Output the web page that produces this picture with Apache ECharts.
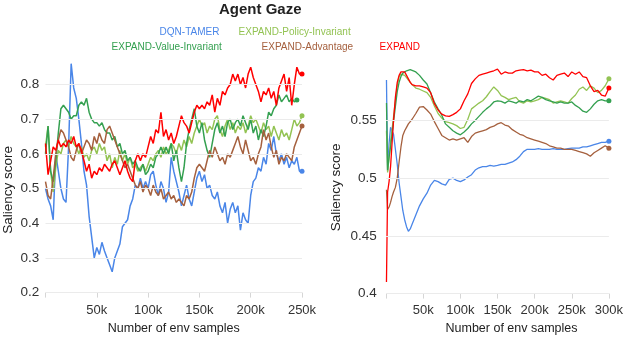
<!DOCTYPE html>
<html lang="en">
<head>
<meta charset="UTF-8">
<title>Agent Gaze</title>
<script src="https://cdn.jsdelivr.net/npm/echarts@6.0.0/dist/echarts.min.js"></script>
<style>
  html, body { margin: 0; padding: 0; background: #fff; }
</style>
</head>
<body>
<div id="main" style="width:626px;height:340px;"></div>
<script>
// series names / colours, in legend order
const seriesNames = ['DQN-TAMER', 'EXPAND-Policy-Invariant', 'EXPAND-Value-Invariant', 'EXPAND-Advantage', 'EXPAND'];
const seriesColors = ['#4a86e8', '#93c353', '#34a050', '#a5603e', '#ff0000'];

// left panel: one reading every 2.5k env samples, starting at 0
const leftStepK = 2.5;
const leftDqnTamer = [
  0.50, 0.47, 0.45, 0.41, 0.60, 0.55, 0.50, 0.47, 0.46, 0.62,
  0.86, 0.79, 0.76, 0.70, 0.63, 0.55, 0.51, 0.42, 0.36, 0.30,
  0.33, 0.31, 0.345, 0.32, 0.30, 0.28, 0.26, 0.30, 0.32, 0.34,
  0.39, 0.40, 0.41, 0.45, 0.47, 0.51, 0.50, 0.53, 0.50, 0.52,
  0.50, 0.54, 0.55, 0.51, 0.48, 0.52, 0.50, 0.46, 0.49, 0.59,
  0.55, 0.52, 0.49, 0.45, 0.48, 0.51, 0.47, 0.45, 0.49, 0.53,
  0.55, 0.52, 0.54, 0.50, 0.51, 0.48, 0.47, 0.49, 0.45, 0.43,
  0.46, 0.40, 0.44, 0.46, 0.43, 0.45, 0.38, 0.43, 0.41, 0.40,
  0.48, 0.52, 0.53, 0.56, 0.55, 0.59, 0.57, 0.63, 0.61, 0.65,
  0.60, 0.58, 0.60, 0.57, 0.59, 0.56, 0.58, 0.57, 0.59, 0.55,
  0.55
];
const leftPolicyInv = [
  0.62, 0.68, 0.55, 0.49, 0.56, 0.61, 0.60, 0.63, 0.64, 0.62,
  0.65, 0.63, 0.62, 0.60, 0.62, 0.59, 0.60, 0.58, 0.61, 0.62,
  0.60, 0.63, 0.61, 0.62, 0.58, 0.60, 0.56, 0.59, 0.57, 0.61,
  0.58, 0.60, 0.57, 0.59, 0.56, 0.57, 0.55, 0.56, 0.57, 0.55,
  0.57, 0.59, 0.58, 0.60, 0.61, 0.59, 0.62, 0.60, 0.61, 0.63,
  0.62, 0.60, 0.63, 0.61, 0.64, 0.62, 0.65, 0.63, 0.66, 0.68,
  0.70, 0.68, 0.69, 0.66, 0.68, 0.67, 0.70, 0.71, 0.67, 0.65,
  0.68, 0.70, 0.67, 0.69, 0.66, 0.68, 0.67, 0.69, 0.66, 0.68,
  0.71, 0.69, 0.70, 0.68, 0.66, 0.69, 0.67, 0.68, 0.65, 0.68,
  0.66, 0.64, 0.67, 0.65, 0.66, 0.64, 0.67, 0.70, 0.68, 0.69,
  0.71
];
const leftValueInv = [
  0.60, 0.68, 0.55, 0.52, 0.58, 0.66, 0.73, 0.74, 0.73, 0.72,
  0.70, 0.71, 0.71, 0.74, 0.75, 0.74, 0.76, 0.72, 0.70, 0.69,
  0.69, 0.68, 0.69, 0.67, 0.66, 0.66, 0.64, 0.65, 0.62, 0.63,
  0.60, 0.61, 0.58, 0.59, 0.57, 0.58, 0.56, 0.55, 0.57, 0.54,
  0.55, 0.57, 0.56, 0.59, 0.60, 0.62, 0.60, 0.62, 0.60, 0.63,
  0.58, 0.61, 0.56, 0.52, 0.56, 0.63, 0.67, 0.70, 0.73, 0.68,
  0.66, 0.69, 0.64, 0.61, 0.59, 0.63, 0.67, 0.69, 0.66, 0.68,
  0.65, 0.69, 0.70, 0.67, 0.69, 0.70, 0.68, 0.71, 0.69, 0.67,
  0.70, 0.66, 0.68, 0.64, 0.67, 0.65, 0.68, 0.72, 0.71, 0.73,
  0.74, 0.77, 0.75, 0.76, 0.77, 0.75, 0.76, 0.75, 0.755
];
const leftAdvantage = [
  0.52, 0.48, 0.47, 0.53, 0.60, 0.64, 0.67, 0.66, 0.64, 0.62,
  0.59, 0.58, 0.61, 0.63, 0.60, 0.62, 0.64, 0.63, 0.61, 0.65,
  0.63, 0.66, 0.64, 0.63, 0.67, 0.68, 0.66, 0.64, 0.62, 0.60,
  0.58, 0.56, 0.57, 0.55, 0.53, 0.51, 0.50, 0.52, 0.49, 0.51,
  0.50, 0.48, 0.51, 0.49, 0.48, 0.50, 0.47, 0.48, 0.49, 0.47,
  0.48, 0.46, 0.47, 0.46, 0.45, 0.48, 0.47, 0.49, 0.53, 0.56,
  0.57, 0.56, 0.55, 0.58, 0.61, 0.59, 0.62, 0.60, 0.58, 0.59,
  0.57, 0.60, 0.59, 0.61, 0.63, 0.65, 0.62, 0.60, 0.64, 0.61,
  0.58, 0.59, 0.57, 0.60, 0.62, 0.67, 0.64, 0.66, 0.62, 0.59,
  0.61, 0.57, 0.59, 0.58, 0.60, 0.59, 0.58, 0.62, 0.64, 0.66,
  0.68
];
const leftExpand = [
  0.63, 0.54, 0.58, 0.62, 0.61, 0.64, 0.62, 0.63, 0.62, 0.64,
  0.63, 0.65, 0.62, 0.63, 0.61, 0.58, 0.55, 0.57, 0.53, 0.55,
  0.54, 0.56, 0.55, 0.57, 0.56, 0.55, 0.57, 0.58, 0.56, 0.54,
  0.56, 0.58, 0.55, 0.53, 0.52, 0.58, 0.60, 0.58, 0.60, 0.59,
  0.62, 0.65, 0.63, 0.67, 0.66, 0.72, 0.65, 0.67, 0.64, 0.66,
  0.63, 0.65, 0.68, 0.71, 0.69, 0.68, 0.66, 0.69, 0.72, 0.74,
  0.73, 0.74, 0.73, 0.75, 0.74, 0.77, 0.72, 0.76, 0.74, 0.78,
  0.77, 0.79, 0.80, 0.83, 0.81, 0.83, 0.80, 0.82, 0.79, 0.83,
  0.85, 0.82, 0.80, 0.78, 0.75, 0.78, 0.77, 0.79, 0.76, 0.78,
  0.74, 0.79, 0.81, 0.83, 0.78, 0.82, 0.74, 0.80, 0.85, 0.83,
  0.83
];

// right panel: env samples (k) and readings
const rightSamplesK = [
  0.5, 2, 4, 6, 8, 10, 12.5, 15, 17.5, 20, 22.5, 25, 27.5, 30, 32.5, 35,
  40, 45, 50, 55, 60, 65, 70, 75, 80, 85, 90, 95, 100, 105, 110, 115, 120,
  125, 130, 135, 140, 145, 150, 155, 160, 165, 170, 175, 180, 185, 190, 195,
  200, 205, 210, 215, 220, 225, 230, 235, 240, 245, 250, 255, 260, 265, 270,
  275, 280, 285, 290, 295, 300
];
const rightDqnTamer = [
  0.585, 0.506, 0.530, 0.544, 0.543, 0.538, 0.525, 0.512, 0.496, 0.484, 0.472, 0.464, 0.458, 0.454, 0.456, 0.460,
  0.468, 0.476, 0.482, 0.487, 0.494, 0.498, 0.497, 0.495, 0.494, 0.499, 0.500, 0.498, 0.497, 0.4985, 0.501, 0.503, 0.507,
  0.509, 0.510, 0.510, 0.511, 0.5105, 0.511, 0.512, 0.512, 0.513, 0.514, 0.516, 0.519, 0.523, 0.525, 0.525,
  0.525, 0.5255, 0.525, 0.525, 0.525, 0.5255, 0.525, 0.525, 0.525, 0.5255, 0.526, 0.526, 0.526, 0.527, 0.527,
  0.528, 0.529, 0.530, 0.531, 0.531, 0.532
];
const rightPolicyInv = [
  0.541, 0.505, 0.518, 0.532, 0.542, 0.553, 0.567, 0.580, 0.588, 0.590, 0.590, 0.589, 0.587, 0.585, 0.583, 0.581,
  0.578, 0.577, 0.5755, 0.574, 0.570, 0.5625, 0.556, 0.552, 0.549, 0.548, 0.547, 0.5455, 0.543, 0.544, 0.551, 0.560, 0.5625,
  0.565, 0.567, 0.5705, 0.575, 0.579, 0.576, 0.5715, 0.570, 0.568, 0.569, 0.570, 0.566, 0.565, 0.567, 0.566,
  0.567, 0.568, 0.570, 0.569, 0.568, 0.565, 0.566, 0.567, 0.566, 0.565, 0.569, 0.572, 0.577, 0.579, 0.576,
  0.580, 0.578, 0.574, 0.576, 0.580, 0.586
];
const rightValueInv = [
  0.565, 0.507, 0.518, 0.527, 0.538, 0.549, 0.562, 0.575, 0.583, 0.588, 0.591, 0.592, 0.593, 0.594, 0.594, 0.5935,
  0.592, 0.589, 0.585, 0.5815, 0.574, 0.566, 0.560, 0.5545, 0.547, 0.544, 0.541, 0.539, 0.5375, 0.540, 0.543, 0.547, 0.550,
  0.5535, 0.557, 0.560, 0.5625, 0.566, 0.567, 0.5665, 0.565, 0.567, 0.566, 0.565, 0.567, 0.566, 0.568, 0.567,
  0.569, 0.571, 0.570, 0.568, 0.567, 0.566, 0.565, 0.566, 0.565, 0.565, 0.566, 0.563, 0.561, 0.558, 0.557,
  0.560, 0.564, 0.567, 0.568, 0.567, 0.567
];
const rightAdvantage = [
  0.490, 0.473, 0.475, 0.479, 0.484, 0.488, 0.492, 0.500, 0.514, 0.527, 0.537, 0.541, 0.544, 0.547, 0.549, 0.551,
  0.556, 0.5615, 0.562, 0.559, 0.5555, 0.549, 0.543, 0.537, 0.535, 0.533, 0.534, 0.533, 0.534, 0.535, 0.531, 0.536, 0.539,
  0.540, 0.541, 0.542, 0.544, 0.545, 0.547, 0.548, 0.546, 0.545, 0.542, 0.540, 0.538, 0.537, 0.535, 0.534,
  0.533, 0.532, 0.531, 0.530, 0.528, 0.527, 0.526, 0.526, 0.525, 0.525, 0.525, 0.524, 0.523, 0.522, 0.521,
  0.519, 0.522, 0.524, 0.526, 0.528, 0.526
];
const rightExpand = [
  0.410, 0.488, 0.497, 0.510, 0.530, 0.550, 0.570, 0.583, 0.589, 0.592, 0.593, 0.592, 0.589, 0.586, 0.583, 0.581,
  0.580, 0.580, 0.579, 0.578, 0.574, 0.5645, 0.559, 0.5555, 0.554, 0.5535, 0.555, 0.557, 0.560, 0.567, 0.573, 0.582, 0.586,
  0.589, 0.590, 0.591, 0.592, 0.593, 0.5945, 0.590, 0.592, 0.591, 0.591, 0.593, 0.5935, 0.594, 0.593, 0.5935,
  0.592, 0.592, 0.589, 0.590, 0.587, 0.585, 0.589, 0.590, 0.591, 0.588, 0.592, 0.590, 0.592, 0.588, 0.587,
  0.580, 0.575, 0.576, 0.572, 0.571, 0.578
];

// gridlines / tick values
const leftYTicks = [0.2, 0.3, 0.4, 0.5, 0.6, 0.7, 0.8];
const rightYTicks = [0.4, 0.45, 0.5, 0.55];

const leftData = [leftDqnTamer, leftPolicyInv, leftValueInv, leftAdvantage, leftExpand];
const rightData = [rightDqnTamer, rightPolicyInv, rightValueInv, rightAdvantage, rightExpand];

const FONT = '"Liberation Sans", Arial, sans-serif';

// mark the last reading with a dot
function withEndDot(pairs) {
  return pairs.map((p, i) => i === pairs.length - 1
    ? { value: p, symbol: 'circle', symbolSize: 5 }
    : { value: p });
}

function gridLines(idx, ticks) {
  return {
    type: 'line', xAxisIndex: idx, yAxisIndex: idx, data: [], silent: true, z: 1,
    markLine: {
      silent: true, symbol: ['none', 'none'], label: { show: false },
      lineStyle: { color: '#ebebeb', width: 1, type: 'solid' },
      data: ticks.map(v => ({ yAxis: v }))
    }
  };
}

const series = [gridLines(0, leftYTicks), gridLines(1, rightYTicks)];
seriesNames.forEach((name, k) => {
  series.push({
    name: name, type: 'line', xAxisIndex: 0, yAxisIndex: 0, z: 2,
    symbol: 'none', color: seriesColors[k],
    lineStyle: { width: 1.5 },
    data: withEndDot(leftData[k].map((v, i) => [i * leftStepK, v]))
  });
  series.push({
    name: name, type: 'line', xAxisIndex: 1, yAxisIndex: 1, z: 2,
    symbol: 'none', color: seriesColors[k],
    lineStyle: { width: 1.3 },
    data: withEndDot(rightData[k].map((v, i) => [rightSamplesK[i], v]))
  });
});

// legend entries are placed one by one (two uneven rows)
const legendPos = [[149, 26.5], [228, 26.5], [101, 42], [251, 42], [369, 42]];
const legends = seriesNames.map((name, k) => ({
  data: [{ name: name, textStyle: { color: seriesColors[k] } }],
  left: legendPos[k][0], top: legendPos[k][1], padding: 0,
  itemWidth: 0, itemHeight: 14, itemStyle: { opacity: 0 }, lineStyle: { opacity: 0 },
  textStyle: { fontFamily: FONT, fontSize: 10 },
  selectedMode: false
}));

function xAxis(idx, max, gap, pad) {
  return {
    type: 'value', gridIndex: idx, min: 0, max: max, interval: 50,
    splitLine: { show: false },
    axisLine: { show: false },
    axisTick: { show: true, length: 5, lineStyle: { color: '#d6d6d6' } },
    axisLabel: { fontFamily: FONT, fontSize: 13, color: '#333', margin: idx ? 10 : 11.5,
      formatter: v => v === 0 ? '' : v + 'k' },
    name: 'Number of env samples', nameLocation: 'middle', nameGap: gap,
    nameTextStyle: { fontFamily: FONT, fontSize: 12.5, color: '#222', padding: pad }
  };
}

function yAxis(idx, min, max, step, digits, margin, gap, pad) {
  return {
    type: 'value', gridIndex: idx, min: min, max: max, interval: step,
    splitLine: { show: false }, axisLine: { show: false }, axisTick: { show: false },
    axisLabel: {
      fontFamily: FONT, fontSize: 13.5, color: '#333', margin: margin,
      formatter: v => {
        const r = Math.round(v / step);
        return Math.abs(v / step - r) < 1e-6 ? String(+(r * step).toFixed(digits)) : '';
      }
    },
    name: 'Saliency score', nameLocation: 'middle', nameGap: gap,
    nameTextStyle: { fontFamily: FONT, fontSize: 13.5, color: '#222', padding: pad }
  };
}

const myChart = echarts.init(document.getElementById('main'));
myChart.setOption({
  animation: false,
  backgroundColor: '#fff',
  title: {
    text: 'Agent Gaze', left: 219, top: 2, padding: 0,
    textStyle: { fontFamily: FONT, fontSize: 15, fontWeight: 'bold', color: '#222' }
  },
  legend: legends,
  grid: [
    { left: 44.3, top: 60.2, width: 257.7, height: 238.5 },
    { left: 386.1, top: 65, width: 227.2, height: 231.8 }
  ],
  xAxis: [xAxis(0, 250, 27.5, [0, 0, 0, 0]), xAxis(1, 300, 28.4, [0, 0, 0, 28])],
  yAxis: [
    yAxis(0, 0.2, 0.87, 0.1, 1, 6.3, 30.5, [0, 27, 0, 0]),
    yAxis(1, 0.4, 0.598, 0.05, 2, 9.4, 42.6, [0, 16, 0, 0])
  ],
  series: series
});
</script>
</body>
</html>
